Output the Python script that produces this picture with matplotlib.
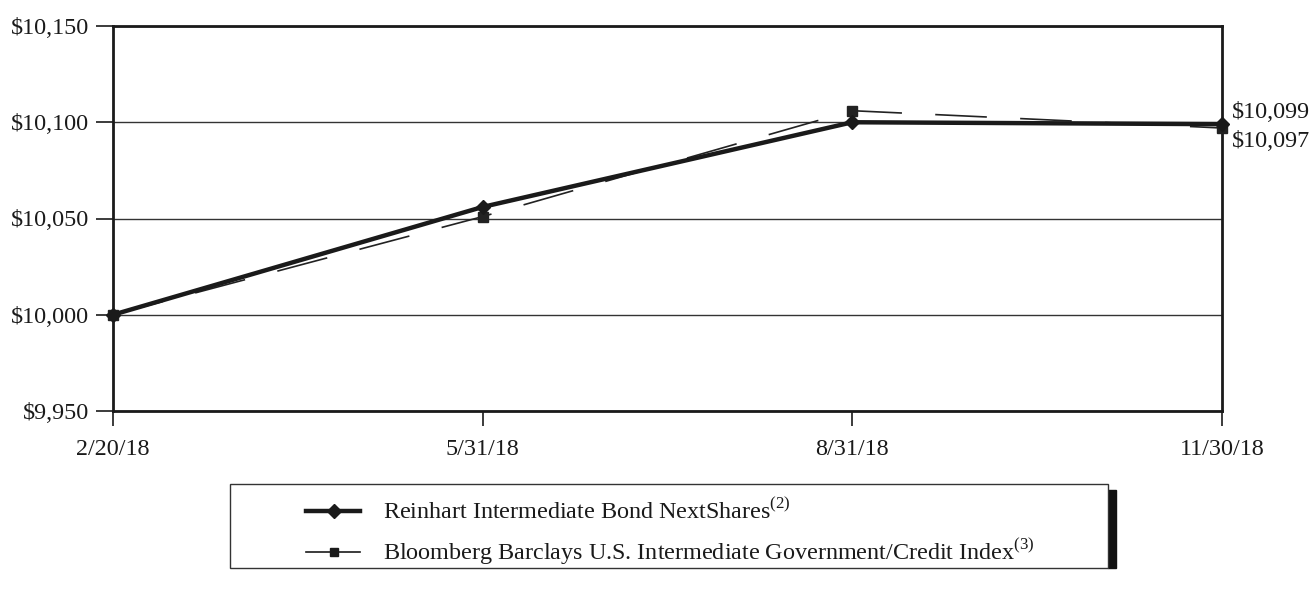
import matplotlib.pyplot as plt
from matplotlib.lines import Line2D
from matplotlib.patches import Rectangle
from matplotlib.ticker import FuncFormatter

plt.rcParams['font.family'] = ['Liberation Serif', 'DejaVu Serif']
plt.rcParams['mathtext.fontset'] = 'custom'
plt.rcParams['mathtext.rm'] = 'Liberation Serif'
fsize = 17.4

dates = ['2/20/18', '5/31/18', '8/31/18', '11/30/18']
reinhart = [10000, 10056, 10100, 10099]
bloomberg = [10000, 10051, 10106, 10097]
end_labels = ['$10,099', '$10,097']
names = [r'Reinhart Intermediate Bond NextShares$^{\mathrm{(2)}}$',
         r'Bloomberg Barclays U.S. Intermediate Government/Credit Index$^{\mathrm{(3)}}$']

fig = plt.figure(figsize=(13.15, 5.97), dpi=100)
ax = fig.add_axes([113 / 1315, 1 - 411 / 597, (1222 - 113) / 1315, (411 - 26) / 597])

x = list(range(len(dates)))
ax.plot(x, bloomberg, color='#222222', lw=1.2, dashes=(31, 20),
        marker='s', markersize=7, zorder=3, clip_on=False)
ax.plot(x, reinhart, color='#1a1a1a', lw=3.2, marker='D', markersize=7.5,
        zorder=4, clip_on=False)

ax.set_xlim(0, 3)
ax.set_ylim(9950, 10150)
ax.set_yticks([9950, 10000, 10050, 10100, 10150])
ax.yaxis.set_major_formatter(FuncFormatter(lambda v, p: '${:,.0f}'.format(v)))
ax.set_xticks(x)
ax.set_xticklabels(dates)
ax.tick_params(axis='y', direction='out', length=12, width=1.2, pad=5,
               labelsize=fsize, colors='#1a1a1a')
ax.tick_params(axis='x', direction='out', length=11, width=1.2, pad=9,
               labelsize=fsize, colors='#1a1a1a')
ax.grid(axis='y', color='#333333', lw=1.0)
ax.set_axisbelow(True)
for s in ax.spines.values():
    s.set_linewidth(2)
    s.set_color('#1a1a1a')

ax.annotate(end_labels[0], (3, reinhart[-1]), xytext=(7, 8.5), textcoords='offset points',
            fontsize=fsize, va='center', ha='left', color='#1a1a1a')
ax.annotate(end_labels[1], (3, bloomberg[-1]), xytext=(7, -10), textcoords='offset points',
            fontsize=fsize, va='center', ha='left', color='#1a1a1a')

# legend box with right-side shadow bar
W, H = 1315, 597
fig.patches.append(Rectangle((1108 / W, 1 - 568 / H), 8 / W, 78 / H,
                             transform=fig.transFigure, color='#111111', zorder=1))
fig.patches.append(Rectangle((230 / W, 1 - 568 / H), 878 / W, 84 / H,
                             transform=fig.transFigure, facecolor='white',
                             edgecolor='#333333', lw=1.0, zorder=2))
rows = [511, 552]
styles = [dict(lw=3.2, marker='D', markersize=7.5), dict(lw=1.2, marker='s', markersize=6)]
for yy, name, st in zip(rows, names, styles):
    fy = 1 - yy / H
    fig.lines.append(Line2D([306 / W, 334 / W, 360 / W], [fy, fy, fy],
                            transform=fig.transFigure, color='#1a1a1a',
                            markevery=[1], zorder=3, **st))
    fig.text(383 / W, fy, name, fontsize=fsize, va='center', ha='left', color='#1a1a1a')

fig.savefig('out.png', dpi=100)
